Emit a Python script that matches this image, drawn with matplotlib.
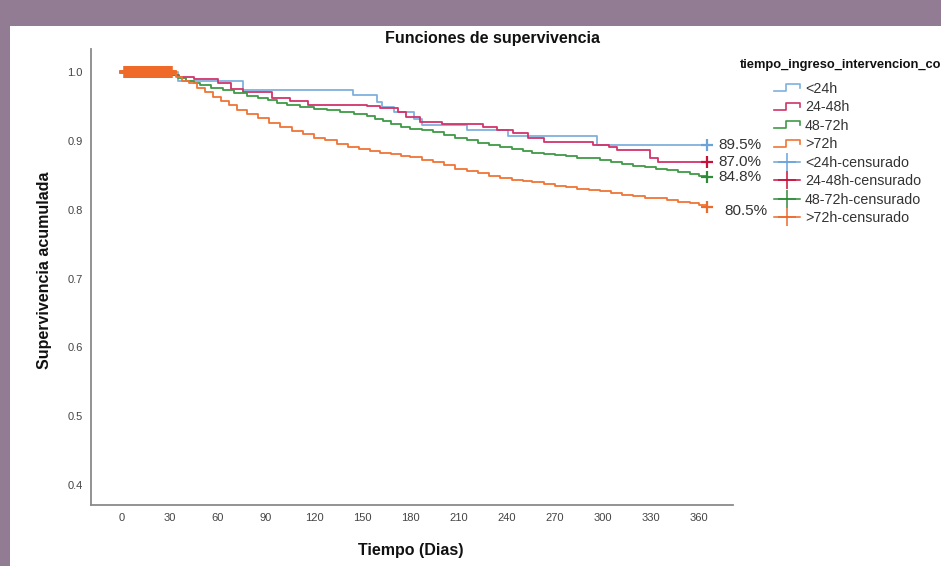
import matplotlib
matplotlib.use("Agg")
import matplotlib.pyplot as plt
from matplotlib.lines import Line2D
from matplotlib.patches import Rectangle
from matplotlib.legend_handler import HandlerBase

plt.rcParams['font.family'] = ['Liberation Sans', 'DejaVu Sans']

# Kaplan-Meier estimates per group (day, cumulative survival)
blue_t = [0, 35, 76, 144, 159, 162, 170, 182, 187, 215, 241, 296, 365]
blue_s = [1.0, 0.988, 0.975, 0.967, 0.957, 0.949, 0.942, 0.932, 0.924, 0.916, 0.907, 0.895, 0.895]

red_t = [0, 31, 36, 45, 60, 68, 76, 94, 105, 116, 153, 161, 172, 177, 186, 200, 225, 234, 244, 253,
         263, 294, 304, 309, 329, 334, 365]
red_s = [1.0, 0.996, 0.993, 0.99, 0.985, 0.976, 0.972, 0.963, 0.958, 0.953, 0.951, 0.948, 0.942, 0.935,
         0.928, 0.925, 0.921, 0.916, 0.912, 0.905, 0.899, 0.895, 0.891, 0.887, 0.876, 0.870, 0.870]

green_t = [0, 31, 35, 40, 45, 49, 56, 63, 70, 78, 85, 91, 97, 103, 111, 120, 128, 136, 145, 153,
           158, 163, 168, 174, 180, 187, 194, 201, 208, 215, 222, 229, 236, 243, 250, 256, 263, 270,
           277, 284, 291, 298, 305, 312, 319, 326, 333, 340, 347, 354, 360, 365]
green_s = [1.0, 0.996, 0.992, 0.988, 0.985, 0.982, 0.978, 0.974, 0.970, 0.966, 0.963, 0.960, 0.956,
           0.952, 0.950, 0.947, 0.945, 0.943, 0.940, 0.936, 0.932, 0.929, 0.925, 0.921, 0.918, 0.916,
           0.913, 0.909, 0.905, 0.901, 0.898, 0.895, 0.892, 0.889, 0.886, 0.883, 0.881, 0.880, 0.878,
           0.876, 0.875, 0.873, 0.870, 0.867, 0.864, 0.862, 0.860, 0.858, 0.855, 0.852, 0.850, 0.848]

orange_t = [0, 31, 34, 38, 42, 47, 52, 57, 62, 67, 72, 78, 85, 92, 99, 106, 113, 120, 127, 134,
            141, 148, 155, 161, 168, 174, 180, 187, 194, 201, 208, 215, 222, 229, 236, 243, 250, 256,
            263, 270, 277, 284, 291, 298, 305, 312, 319, 326, 333, 340, 347, 354, 360, 365]
orange_s = [1.0, 0.997, 0.993, 0.988, 0.984, 0.978, 0.971, 0.964, 0.958, 0.952, 0.946, 0.940, 0.933,
            0.926, 0.920, 0.915, 0.910, 0.905, 0.901, 0.896, 0.892, 0.889, 0.886, 0.883, 0.881, 0.879,
            0.877, 0.873, 0.869, 0.865, 0.860, 0.856, 0.853, 0.850, 0.847, 0.844, 0.842, 0.840, 0.837,
            0.835, 0.833, 0.831, 0.829, 0.827, 0.825, 0.822, 0.820, 0.818, 0.817, 0.815, 0.812, 0.810,
            0.807, 0.805]

# early censored cases in the >72h group
orange_cens = [2, 3, 4, 5, 6, 7, 8, 9, 10, 11, 12, 13, 14, 15, 16, 17, 18, 19, 20,
               21, 22, 23, 24, 25, 26, 27, 28, 29, 30, 31]

groups = ['<24h', '24-48h', '48-72h', '>72h']
colors = ['#7fb0dd', '#d0346a', '#3f9a45', '#ef7536']
cens_colors = ['#6aa3d8', '#c8103c', '#2e8b38', '#ec6a2a']
final_pct = ['89.5%', '87.0%', '84.8%', '80.5%']
xticks = [0, 30, 60, 90, 120, 150, 180, 210, 240, 270, 300, 330, 360]
yticks = [0.4, 0.5, 0.6, 0.7, 0.8, 0.9, 1.0]

fig = plt.figure(figsize=(9.41, 5.66), dpi=100, facecolor='#927c93')
fig.patches.append(Rectangle((10 / 941, 0), 1, 1 - 26 / 566, transform=fig.transFigure,
                             facecolor='white', edgecolor='none', zorder=-10))
ax = fig.add_axes([91 / 941, 1 - 505 / 566, (733 - 91) / 941, (505 - 49) / 566])
ax.set_facecolor('none')
ax.set_zorder(2)

series = [(blue_t, blue_s), (red_t, red_s), (green_t, green_s), (orange_t, orange_s)]
for (t, s), c in zip(series, colors):
    ax.step(t, s, where='post', color=c, lw=1.3)

ax.plot(orange_cens, [1.0] * len(orange_cens), ls='none', marker='+', ms=9, mew=2.6,
        color='#ef6a28', zorder=5)

for (t, s), c, lab, k in zip(series, cens_colors, final_pct, range(4)):
    ax.plot(t[-1], s[-1], ls='none', marker='+', ms=8, mew=1.6, color=c, zorder=6)
    dx, dy = (12, -3) if k == 3 else (8, 0)
    ax.annotate(lab, (t[-1], s[-1]), xytext=(dx, dy), textcoords='offset points',
                va='center', ha='left', fontsize=11, color='#333333', annotation_clip=False)

ax.set_xlim(-19, 381)
ax.set_ylim(0.371, 1.034)
ax.set_xticks(xticks)
ax.set_yticks(yticks)
ax.set_yticklabels([f'{v:.1f}' for v in yticks])
ax.tick_params(length=0, labelsize=8, labelcolor='#444444', pad=6)
for side in ['top', 'right']:
    ax.spines[side].set_visible(False)
for side in ['left', 'bottom']:
    ax.spines[side].set_color('#8a8a8a')
    ax.spines[side].set_linewidth(1.3)

fig.text(492 / 941, 1 - 38 / 566, 'Funciones de supervivencia', ha='center', va='center',
         fontsize=11.5, fontweight='bold', color='#111111')
fig.text(45 / 941, 1 - 270 / 566, 'Supervivencia acumulada', ha='center', va='center',
         rotation=90, fontsize=11.5, fontweight='bold', color='#111111')
fig.text(411 / 941, 1 - 550 / 566, 'Tiempo (Dias)', ha='center', va='center',
         fontsize=11.5, fontweight='bold', color='#111111')


class HandlerStep(HandlerBase):
    # small step glyph for survival curve entries
    def create_artists(self, legend, orig_handle, xdescent, ydescent, width, height, fontsize, trans):
        x0, y0 = -xdescent, -ydescent
        xs = [x0, x0 + 0.45 * width, x0 + 0.45 * width, x0 + width, x0 + width]
        ys = [y0 + 0.15 * height, y0 + 0.15 * height, y0 + 0.85 * height, y0 + 0.85 * height,
              y0 + 0.45 * height]
        ln = Line2D(xs, ys, color=orig_handle.get_color(), lw=1.2, transform=trans)
        return [ln]


step_handles = [Line2D([], [], color=c) for c in colors]
cens_handles = [Line2D([], [], color=c, marker='+', ms=13, mew=1.1, lw=1.1) for c in cens_colors]
labels = groups + [g + '-censurado' for g in groups]
handler_map = {h: HandlerStep() for h in step_handles}

# legend title sits left of the entries and runs off the right edge
fig.text(740 / 941, 1 - 65 / 566, 'tiempo_ingreso_intervencion_cod', ha='left', va='center',
         fontsize=9.3, fontweight='bold', color='#111111')
leg = fig.legend(step_handles + cens_handles, labels, handler_map=handler_map,
                 loc='upper left', bbox_to_anchor=(774 / 941, 1 - 82 / 566),
                 frameon=False, fontsize=10.3, handlelength=1.8, handletextpad=0.35,
                 labelspacing=0.31, borderaxespad=0, borderpad=0)
for txt in leg.get_texts():
    txt.set_color('#333333')

fig.savefig('out.png', dpi=100, facecolor=fig.get_facecolor())
